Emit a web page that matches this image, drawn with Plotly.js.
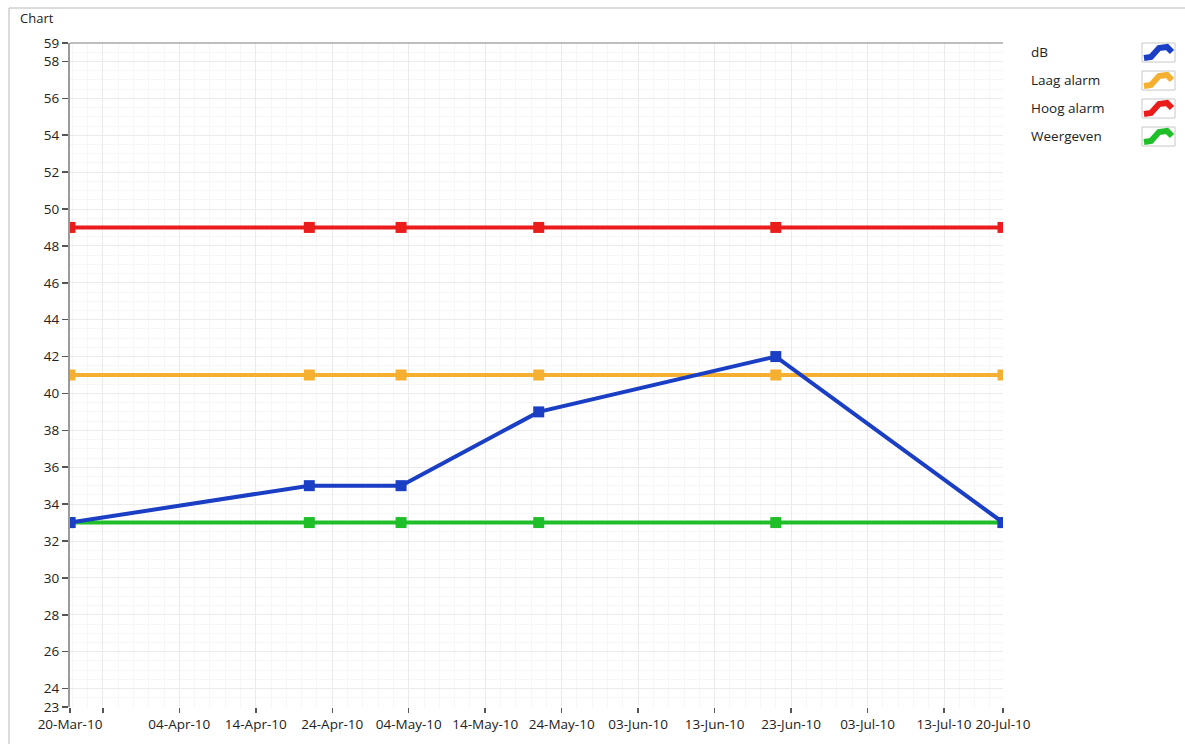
<!DOCTYPE html>
<html>
<head>
<meta charset="utf-8">
<script src="https://cdn.plot.ly/plotly-3.0.1.min.js"></script>
<style>html,body{margin:0;padding:0;background:#fff;}#chart{width:1185px;height:744px;}</style>
</head>
<body>
<div id="chart"></div>
<script>
// ---- data ----
const dates = ['2010-03-20 17:00', '2010-04-21 00:00', '2010-05-03 00:00', '2010-05-21 00:00', '2010-06-21 00:00', '2010-07-20 17:00'];
const dB = [33, 35, 35, 39, 42, 33];
const laagAlarm = [41, 41, 41, 41, 41, 41];
const hoogAlarm = [49, 49, 49, 49, 49, 49];
const weergeven = [33, 33, 33, 33, 33, 33];
const seriesNames = ['dB', 'Laag alarm', 'Hoog alarm', 'Weergeven'];
const xTickVals = ['2010-03-20 17:00', '2010-03-25', '2010-04-04', '2010-04-14', '2010-04-24', '2010-05-04', '2010-05-14', '2010-05-24', '2010-06-03', '2010-06-13', '2010-06-23', '2010-07-03', '2010-07-13', '2010-07-20 17:00'];
const xTickText = ['20-Mar-10', '', '04-Apr-10', '14-Apr-10', '24-Apr-10', '04-May-10', '14-May-10', '24-May-10', '03-Jun-10', '13-Jun-10', '23-Jun-10', '03-Jul-10', '13-Jul-10', '20-Jul-10'];
const yTickVals = [23, 24, 26, 28, 30, 32, 34, 36, 38, 40, 42, 44, 46, 48, 50, 52, 54, 56, 58, 59];

// ---- style ----
const colors = {'dB': '#1a3ec4', 'Laag alarm': '#f5b031', 'Hoog alarm': '#ea1c1c', 'Weergeven': '#1fbf2a'};
const FONT = 'Open Sans, Noto Sans, sans-serif';
const FS = 13.5;

function trace(name, y) {
  return {
    x: dates, y: y, name: name, type: 'scatter', mode: 'lines+markers',
    line: {color: colors[name], width: 4},
    marker: {symbol: 'square', size: 11, color: colors[name]},
    showlegend: false, hoverinfo: 'x+y+name'
  };
}
const data = [
  trace('Hoog alarm', hoogAlarm),
  trace('Laag alarm', laagAlarm),
  trace('Weergeven', weergeven),
  trace('dB', dB)
];

// plot area in pixels
const L = 70, R = 1003, T = 43, B = 707, W = 1185, H = 744;
const px = x => (x - L) / (R - L);
const py = y => (B - y) / (B - T);

const shapes = [
  // outer frame
  {type: 'line', xref: 'paper', yref: 'paper', x0: px(9), x1: px(1185), y0: py(8), y1: py(8), line: {color: '#cfcfcf', width: 1.5}},
  {type: 'line', xref: 'paper', yref: 'paper', x0: px(9), x1: px(9), y0: py(8), y1: py(744), line: {color: '#cfcfcf', width: 1.5}},
  // top plot border
  {type: 'line', xref: 'paper', yref: 'paper', x0: 0, x1: 1, y0: 1, y1: 1, line: {color: '#a8a8a8', width: 1.5}}
];
const annotations = [
  {text: 'Chart', xref: 'paper', yref: 'paper', x: px(18), y: py(18), xanchor: 'left', yanchor: 'middle', showarrow: false, font: {family: FONT, size: 13, color: '#222'}}
];
seriesNames.forEach((n, i) => {
  const cy = 52 + i * 28;
  annotations.push({text: n, xref: 'paper', yref: 'paper', x: px(1029), y: py(cy), xanchor: 'left', yanchor: 'middle', showarrow: false, font: {family: FONT, size: FS, color: '#222'}});
  // swatch box
  shapes.push({type: 'rect', xref: 'paper', yref: 'paper', x0: px(1142), x1: px(1175), y0: py(cy - 9), y1: py(cy + 10), line: {color: '#c8c8c8', width: 1}, fillcolor: '#ffffff'});
  // swatch icon
  const pts = [[1144, cy + 6], [1151, cy + 5], [1159, cy - 4], [1167, cy - 5], [1172, cy]];
  const path = 'M ' + pts.map(p => px(p[0]) + ' ' + py(p[1])).join(' L ');
  shapes.push({type: 'path', xref: 'paper', yref: 'paper', path: path, line: {color: colors[n], width: 6}});
});

const layout = {
  width: W, height: H,
  margin: {l: L, r: W - R, t: T, b: H - B, pad: 0},
  paper_bgcolor: '#ffffff', plot_bgcolor: '#ffffff',
  font: {family: FONT, size: FS, color: '#222'},
  showlegend: false,
  xaxis: {
    type: 'date', range: ['2010-03-20 17:00', '2010-07-20 17:00'],
    tickmode: 'array', tickvals: xTickVals, ticktext: xTickText,
    ticks: 'outside', ticklen: 5, tickwidth: 1.5, tickcolor: '#555',
    showgrid: true, gridcolor: '#ebebeb', gridwidth: 1,
    minor: {dtick: 2 * 86400000, tick0: '2010-03-25', showgrid: true, gridcolor: '#f6f6f6', gridwidth: 1},
    showline: false, zeroline: false,
    tickfont: {family: FONT, size: FS, color: '#222'}
  },
  yaxis: {
    range: [23, 59],
    tickmode: 'array', tickvals: yTickVals, ticktext: yTickVals.map(String),
    ticks: 'outside', ticklen: 6, tickwidth: 1.5, tickcolor: '#555',
    showgrid: true, gridcolor: '#ebebeb', gridwidth: 1,
    minor: {dtick: 0.5, tick0: 0, showgrid: true, gridcolor: '#f6f6f6', gridwidth: 1},
    showline: true, linecolor: '#9a9a9a', linewidth: 2, zeroline: false,
    tickfont: {family: FONT, size: FS, color: '#222'}
  },
  shapes: shapes,
  annotations: annotations
};

Plotly.newPlot('chart', data, layout, {displayModeBar: false, staticPlot: true});
</script>
</body>
</html>
